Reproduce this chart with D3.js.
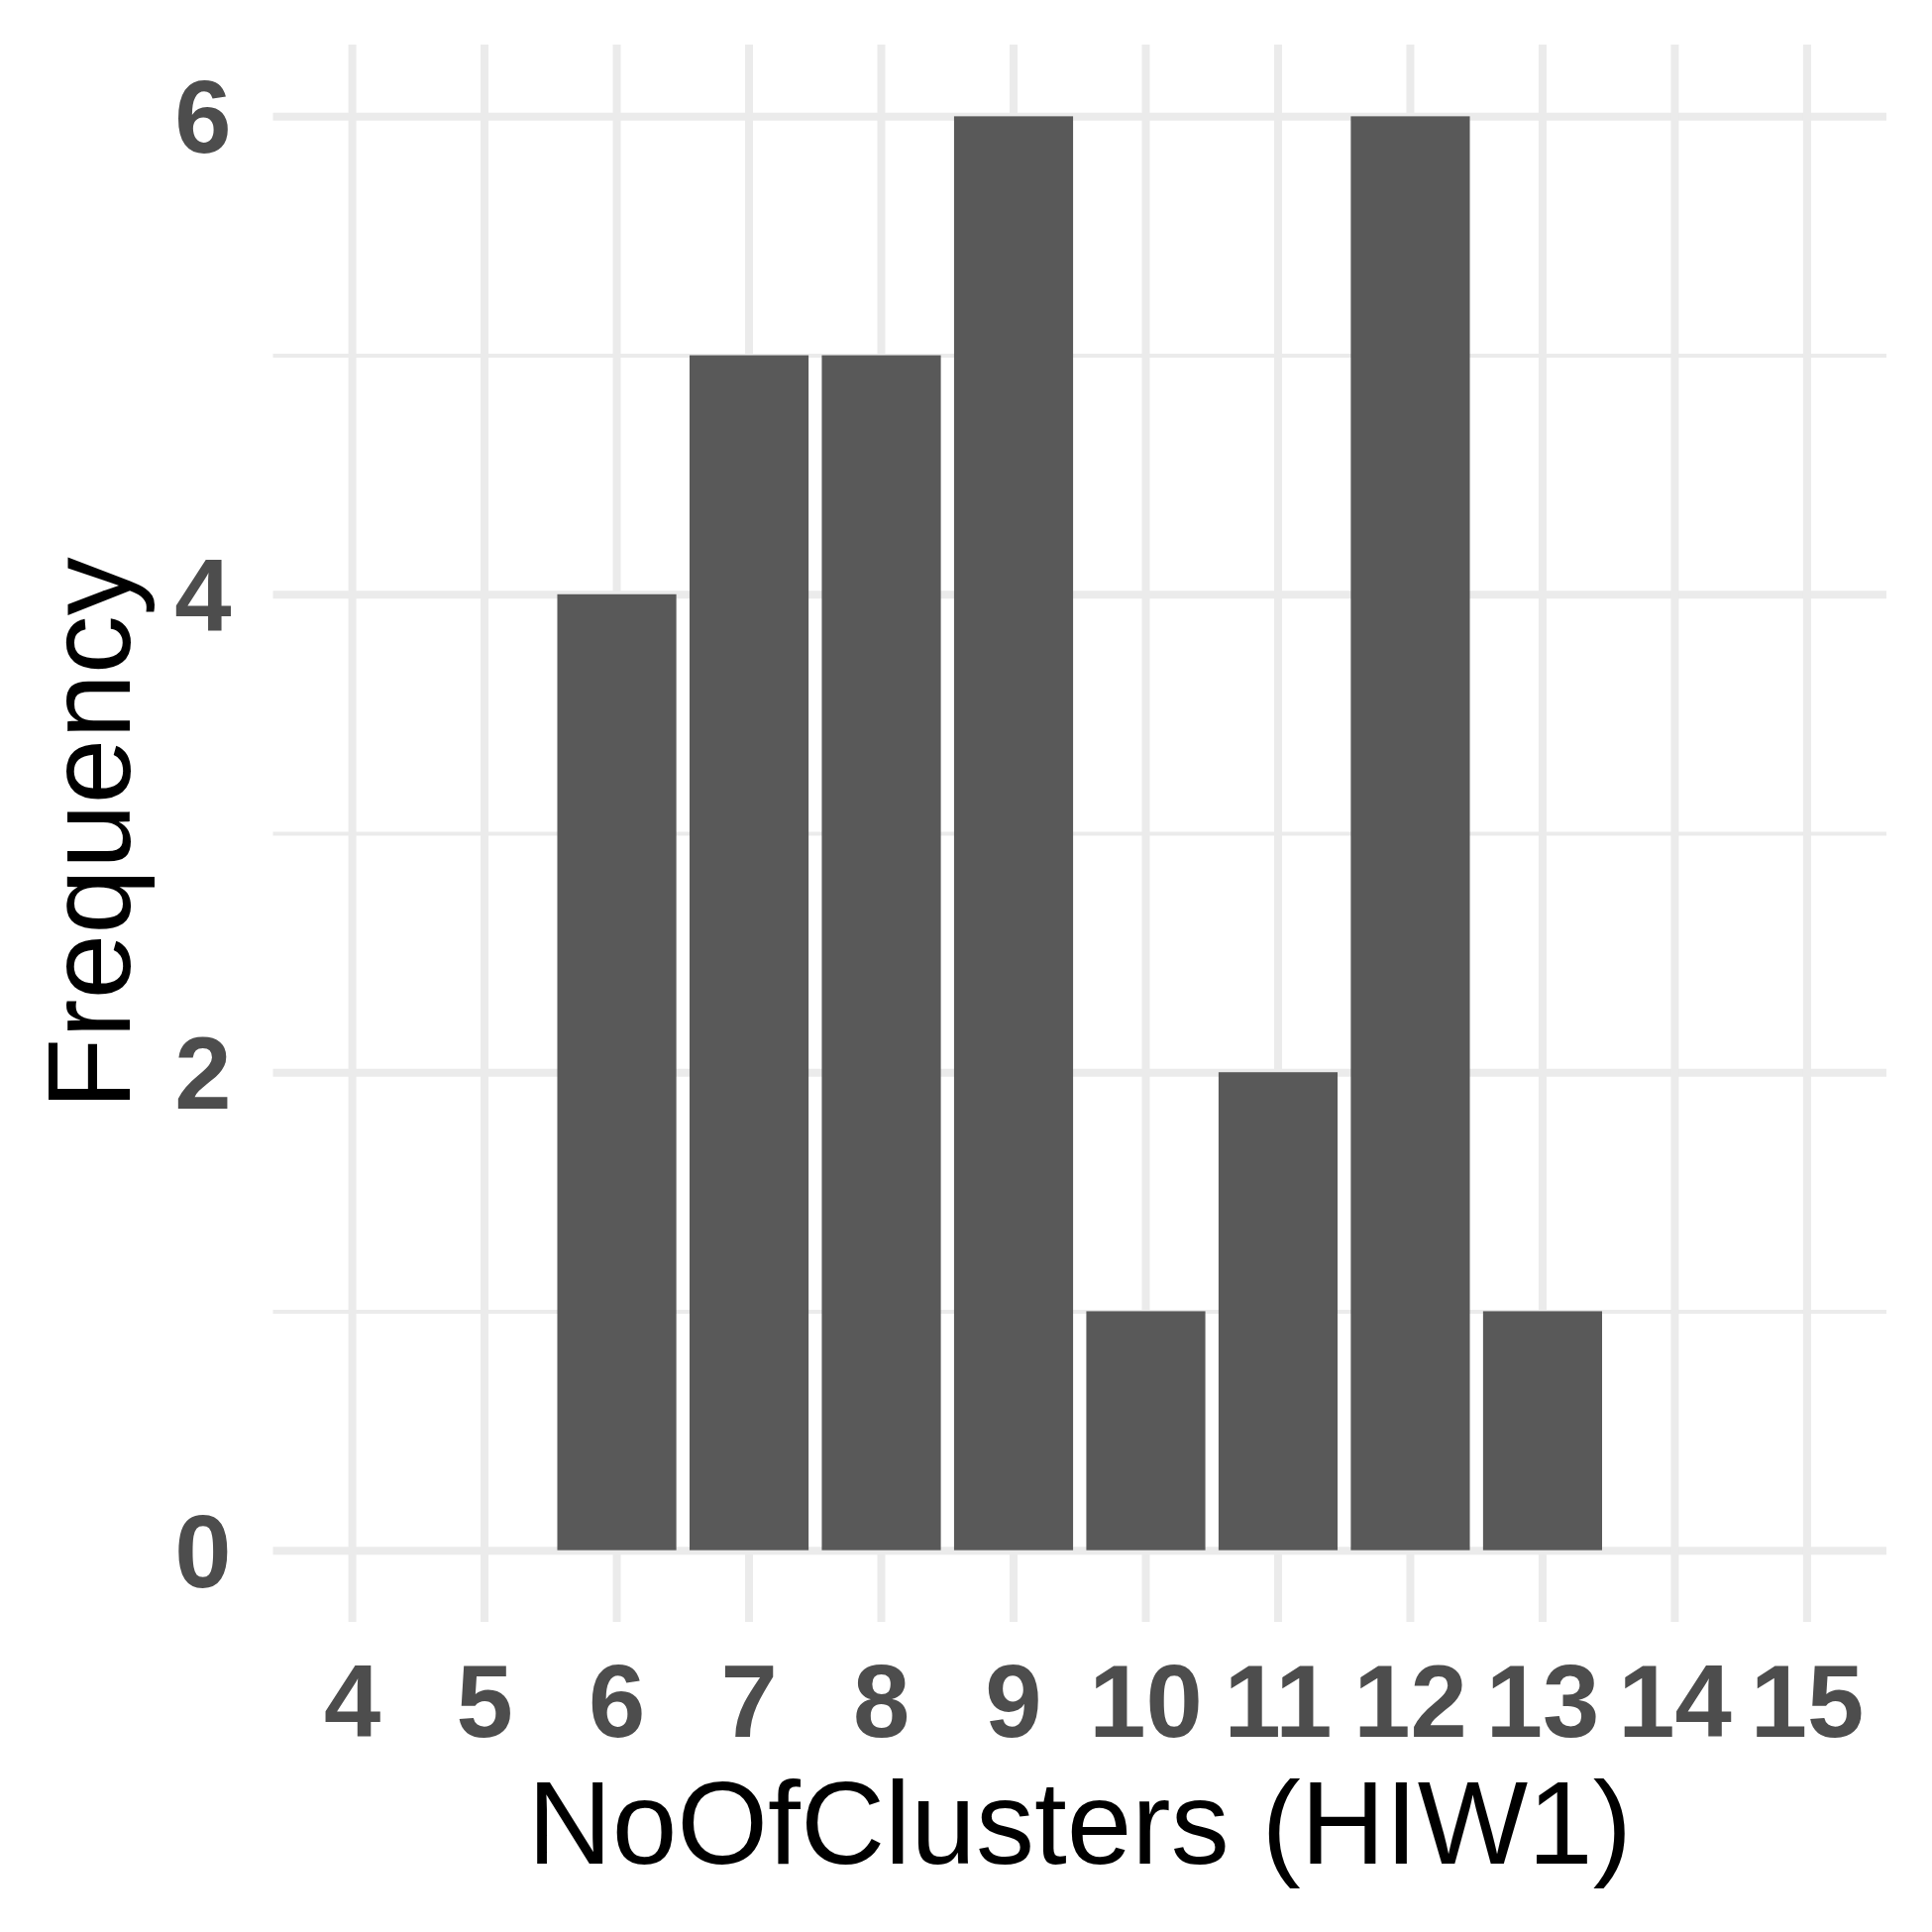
<!DOCTYPE html>
<html>
<head>
<meta charset="utf-8">
<script src="https://cdn.jsdelivr.net/npm/d3@7"></script>
<style>
  body { margin: 0; background: #fff; }
  svg { display: block; }
</style>
</head>
<body>
<div id="chart"></div>
<script>
// categories on the x axis (discrete, empty ones included)
var clusters = ["4", "5", "6", "7", "8", "9", "10", "11", "12", "13", "14", "15"];
// bar heights, only where there is a bar
var barClusters = ["6", "7", "8", "9", "10", "11", "12", "13"];
var frequency = [4, 5, 5, 6, 1, 2, 6, 1];
var yMajor = [0, 2, 4, 6];
var yMinor = [1, 3, 5];

var bars = barClusters.map((c, i) => ({ c: c, f: frequency[i] }));

// panel box (note: "top" is a reserved window prop, so use pTop etc.)
var W = 1950, H = 1950;
var pLeft = 275.5, pRight = 1904, pTop = 45, pBottom = 1637;

var svg = d3.select("#chart").append("svg")
    .attr("width", W)
    .attr("height", H);

svg.append("rect").attr("width", W).attr("height", H).attr("fill", "#fff");

// discrete x, 0.6 expansion each side, bar width 0.9
var x = d3.scaleBand()
    .domain(clusters)
    .range([pLeft, pRight])
    .paddingInner(0.1)
    .paddingOuter(0.15);

var y = d3.scaleLinear()
    .domain([-0.3, 6.3])
    .range([pBottom, pTop]);

//----- grid
var grid = svg.append("g");

grid.append("g")
    .attr("transform", "translate(" + pLeft + ",0)")
    .call(d3.axisLeft(y).tickValues(yMinor).tickSize(-(pRight - pLeft)).tickFormat(""))
    .call(g => g.select(".domain").remove())
    .call(g => g.selectAll("line").attr("stroke", "#EBEBEB").attr("stroke-width", 4));

grid.append("g")
    .attr("transform", "translate(" + pLeft + ",0)")
    .call(d3.axisLeft(y).tickValues(yMajor).tickSize(-(pRight - pLeft)).tickFormat(""))
    .call(g => g.select(".domain").remove())
    .call(g => g.selectAll("line").attr("stroke", "#EBEBEB").attr("stroke-width", 8));

grid.append("g")
    .attr("transform", "translate(0," + pBottom + ")")
    .call(d3.axisBottom(x).tickSize(-(pBottom - pTop)).tickFormat(""))
    .call(g => g.select(".domain").remove())
    .call(g => g.selectAll("line").attr("stroke", "#EBEBEB").attr("stroke-width", 8));

//----- bars
svg.append("g")
    .selectAll("rect")
    .data(bars)
    .join("rect")
    .attr("x", d => x(d.c))
    .attr("width", x.bandwidth())
    .attr("y", d => y(d.f))
    .attr("height", d => y(0) - y(d.f))
    .attr("fill", "#595959");

//----- tick labels
var tickFont = "'Liberation Sans', Arial, sans-serif";

svg.append("g")
    .attr("transform", "translate(0," + pBottom + ")")
    .call(d3.axisBottom(x).tickSize(0))
    .call(g => g.select(".domain").remove())
    .call(g => g.selectAll("line").remove())
    .call(g => g.selectAll("text")
        .attr("y", 116)
        .attr("dy", null)
        .attr("fill", "#4D4D4D")
        .attr("font-family", tickFont)
        .attr("font-weight", "bold")
        .attr("font-size", 103));

svg.append("g")
    .attr("transform", "translate(" + pLeft + ",0)")
    .call(d3.axisLeft(y).tickValues(yMajor).tickSize(0).tickFormat(d3.format("d")))
    .call(g => g.select(".domain").remove())
    .call(g => g.selectAll("line").remove())
    .call(g => g.selectAll("text")
        .attr("x", -42)
        .attr("dy", "0.355em")
        .attr("fill", "#4D4D4D")
        .attr("font-family", tickFont)
        .attr("font-weight", "bold")
        .attr("font-size", 103));

//----- axis titles
svg.append("text")
    .attr("x", (pLeft + pRight) / 2)
    .attr("y", 1881)
    .attr("text-anchor", "middle")
    .attr("font-family", tickFont)
    .attr("font-size", 118)
    .attr("fill", "#000")
    .text("NoOfClusters (HIW1)");

svg.append("text")
    .attr("transform", "translate(131," + (pTop + pBottom) / 2 + ") rotate(-90)")
    .attr("text-anchor", "middle")
    .attr("font-family", tickFont)
    .attr("font-size", 118)
    .attr("fill", "#000")
    .text("Frequency");
</script>
</body>
</html>
